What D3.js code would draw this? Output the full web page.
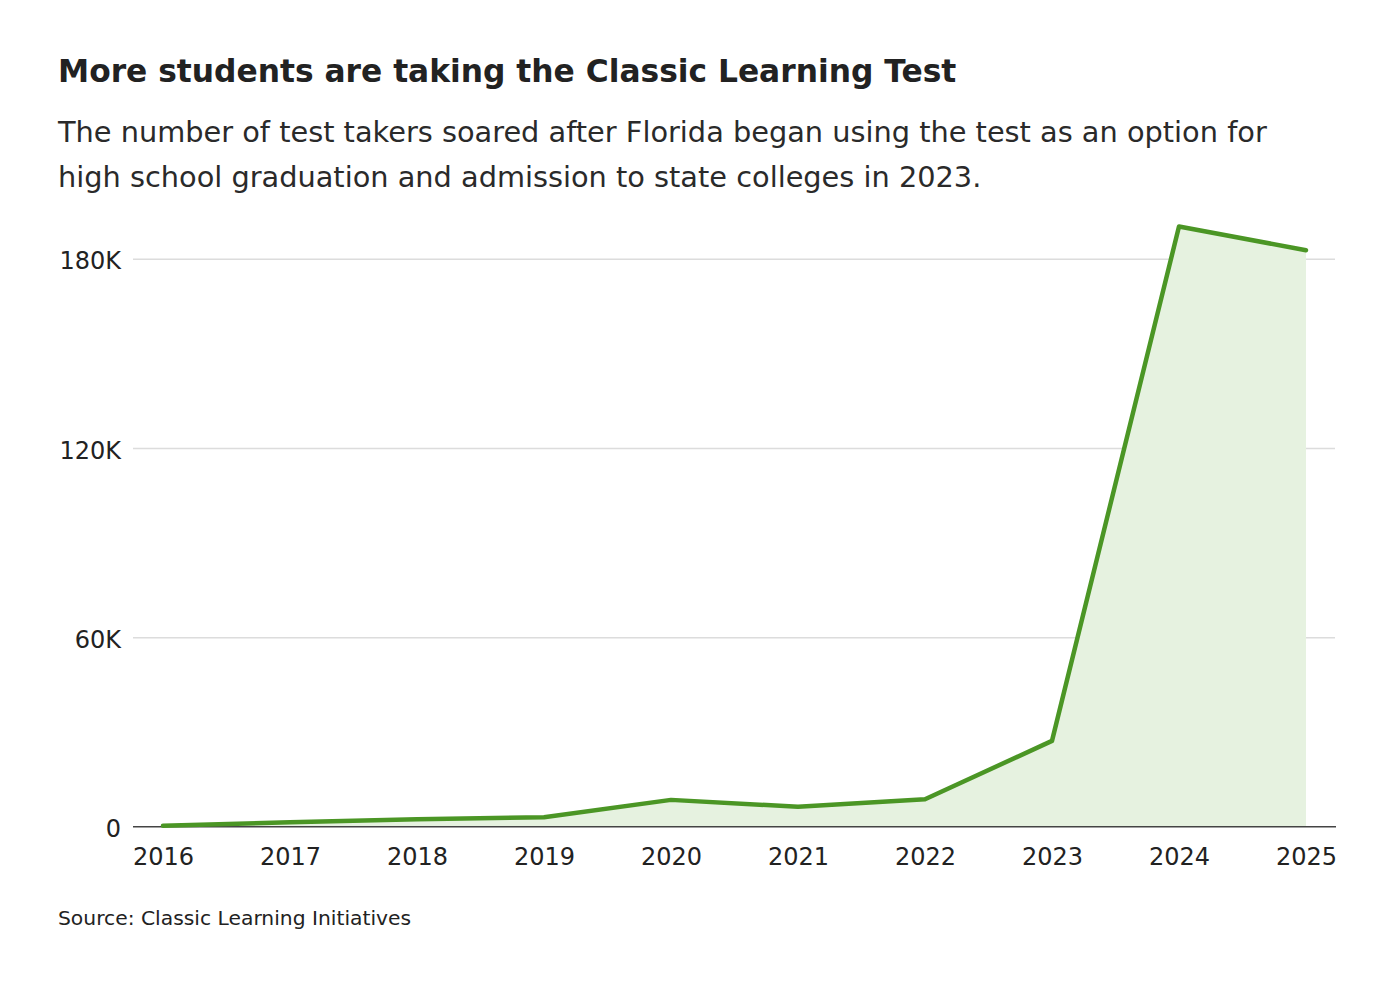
<!DOCTYPE html>
<html>
<head>
<meta charset="utf-8">
<title>Classic Learning Test</title>
<script src="https://d3js.org/d3.v7.min.js"></script>
<style>
  body { margin: 0; background: #fff; }
  svg text { font-family: "DejaVu Sans", sans-serif; fill: #222; }
  .title { font-weight: 700; font-size: 31.3px; }
  .sub { font-size: 28.8px; fill: #2a2a2a; }
  .tick text { font-size: 24px; fill: #222; }
  .source { font-size: 20.3px; }
</style>
</head>
<body>
<svg id="chart"></svg>
<script>
// data (test takers)
var years = [2016, 2017, 2018, 2019, 2020, 2021, 2022, 2023, 2024, 2025];
var takers = [300, 1400, 2400, 3000, 8500, 6300, 8700, 27200, 190200, 182700];
var yTicks = [0, 60000, 120000, 180000];
var yTickLabels = ["0", "60K", "120K", "180K"];

var width = 1400, height = 986;
var svg = d3.select("#chart").attr("width", width).attr("height", height);

var margin = {left: 133, right: 64};

var x = d3.scalePoint().domain(years).range([163, 1306]);
var y = d3.scaleLinear().domain([0, 180000]).range([826.7, 258.7]);

// title + subtitle
svg.append("text").attr("class", "title").attr("x", 58).attr("y", 82)
  .text("More students are taking the Classic Learning Test");
svg.append("text").attr("class", "sub").attr("x", 58).attr("y", 142)
  .text("The number of test takers soared after Florida began using the test as an option for");
svg.append("text").attr("class", "sub").attr("x", 58).attr("y", 187)
  .text("high school graduation and admission to state colleges in 2023.");

// gridlines + y labels
var yAxis = d3.axisLeft(y).tickValues(yTicks)
  .tickFormat(function(d, i){ return yTickLabels[i]; })
  .tickSize(0).tickPadding(12);

var gy = svg.append("g").attr("transform", "translate(" + margin.left + ",0)").call(yAxis);
gy.select(".domain").remove();
gy.selectAll(".tick text").attr("dy", "0.42em");
gy.selectAll(".tick line").attr("x2", 1335 - margin.left).attr("stroke", "#dcdcdc").attr("stroke-width", 1.5);
gy.selectAll(".tick").filter(function(d){ return d === 0; }).select("line").remove();

// area + line
var area = d3.area().x(function(d, i){ return x(years[i]); })
  .y0(y(0)).y1(function(d){ return y(d); });
var line = d3.line().x(function(d, i){ return x(years[i]); })
  .y(function(d){ return y(d); });

svg.append("path").datum(takers).attr("d", area).attr("fill", "#e6f2e0");

// x axis
var xAxis = d3.axisBottom(x).tickSize(0);
var gx = svg.append("g").attr("transform", "translate(0," + y(0) + ")").call(xAxis);
gx.select(".domain").attr("d", "M" + margin.left + ",0H1336").attr("stroke", "#444").attr("stroke-width", 1.5);
gx.selectAll(".tick text").attr("y", 38).attr("dy", 0);

svg.append("path").datum(takers).attr("d", line)
  .attr("fill", "none").attr("stroke", "#4b9625").attr("stroke-width", 4.5)
  .attr("stroke-linejoin", "round").attr("stroke-linecap", "round");

// source
svg.append("text").attr("class", "source").attr("x", 58).attr("y", 925)
  .text("Source: Classic Learning Initiatives");
</script>
</body>
</html>
